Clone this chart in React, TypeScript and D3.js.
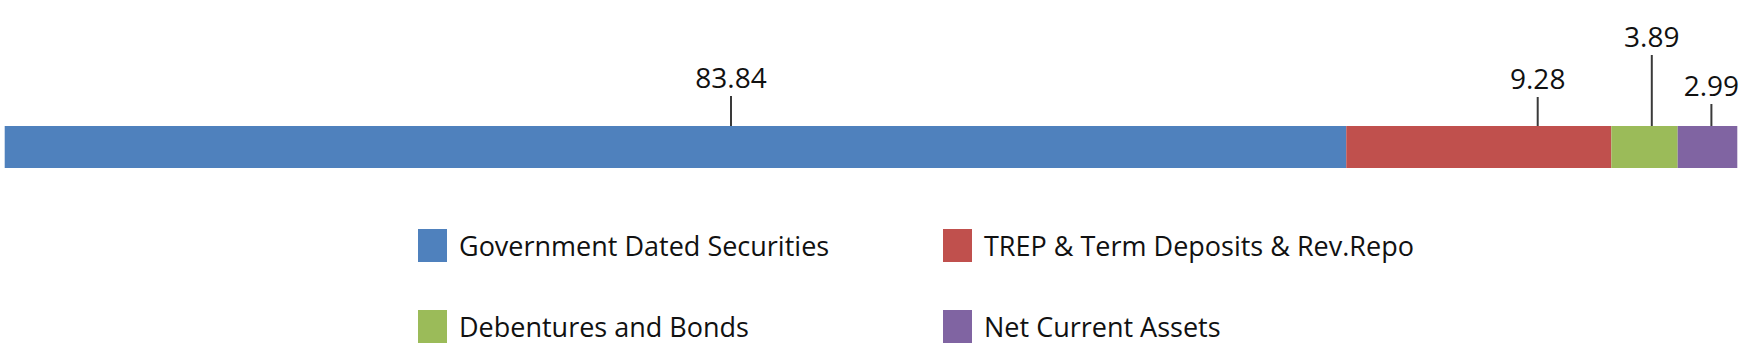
import React, { useEffect, useRef } from 'react'
import { select, scaleLinear } from 'd3'

// categories, in stacking order
const categories = [
  'Government Dated Securities',
  'TREP & Term Deposits & Rev.Repo',
  'Debentures and Bonds',
  'Net Current Assets',
]
// segment widths as drawn in the picture (% of total)
const segmentValues = [77.43, 15.3, 3.83, 3.44]
// data labels printed above the bar
const labelValues = [83.84, 9.28, 3.89, 2.99]
const colors = ['#4F81BD', '#C0504D', '#9BBB59', '#8064A2']

const WIDTH = 1755
const HEIGHT = 354
const FONT = "'Open Sans', 'Noto Sans', sans-serif"

const App = () => {
  const svgRef = useRef<SVGSVGElement | null>(null)

  useEffect(() => {
    if (svgRef.current === null) {
      return
    }
    const svg = select(svgRef.current)
    svg.selectAll('*').remove()

    const barTop = 126
    const barHeight = 42
    const x = scaleLinear().domain([0, 100]).range([4.7, 1737.3])

    // stack the segments
    let acc = 0
    const segs = segmentValues.map((v, i) => {
      const s = { x0: acc, x1: acc + v, color: colors[i] }
      acc += v
      return s
    })
    svg.append('g')
      .selectAll('rect')
      .data(segs)
      .join('rect')
      .attr('x', d => x(d.x0))
      .attr('y', barTop)
      .attr('width', d => x(d.x1) - x(d.x0))
      .attr('height', barHeight)
      .attr('fill', d => d.color)

    // labels sit at the middle of each label value's share
    let lacc = 0
    const labels = labelValues.map(v => {
      const mid = lacc + v / 2
      lacc += v
      return { mid, text: v.toFixed(2) }
    })
    // leader lengths, the third label is lifted to clear its neighbours
    const leader = [30, 29, 71, 22]

    const lg = svg.append('g')
    labels.forEach((d, i) => {
      const cx = x(d.mid)
      lg.append('line')
        .attr('x1', cx).attr('x2', cx)
        .attr('y1', barTop).attr('y2', barTop - leader[i])
        .attr('stroke', '#3a3a3a')
        .attr('stroke-width', 2)
      lg.append('text')
        .attr('x', cx)
        .attr('y', barTop - leader[i] - 8)
        .attr('text-anchor', 'middle')
        .attr('font-family', FONT)
        .attr('font-size', 28)
        .attr('fill', '#111')
        .text(d.text)
    })

    // legend: two columns, two rows
    const legendX = [418, 943]
    const legendY = [229, 310]
    const leg = svg.append('g')
      .selectAll('g')
      .data(categories)
      .join('g')
      .attr('transform', (_, i) => `translate(${legendX[i % 2]},${legendY[Math.floor(i / 2)]})`)
    leg.append('rect')
      .attr('width', 29)
      .attr('height', 33)
      .attr('fill', (_, i) => colors[i])
    leg.append('text')
      .attr('x', 41)
      .attr('y', 27)
      .attr('font-family', FONT)
      .attr('font-size', 27)
      .attr('fill', '#111')
      .text(d => d)
  }, [])

  return (
    <svg
      ref={svgRef}
      width={WIDTH}
      height={HEIGHT}
      style={{ position: 'absolute', left: 0, top: 0, background: '#fff' }}
    />
  )
}

export default App
